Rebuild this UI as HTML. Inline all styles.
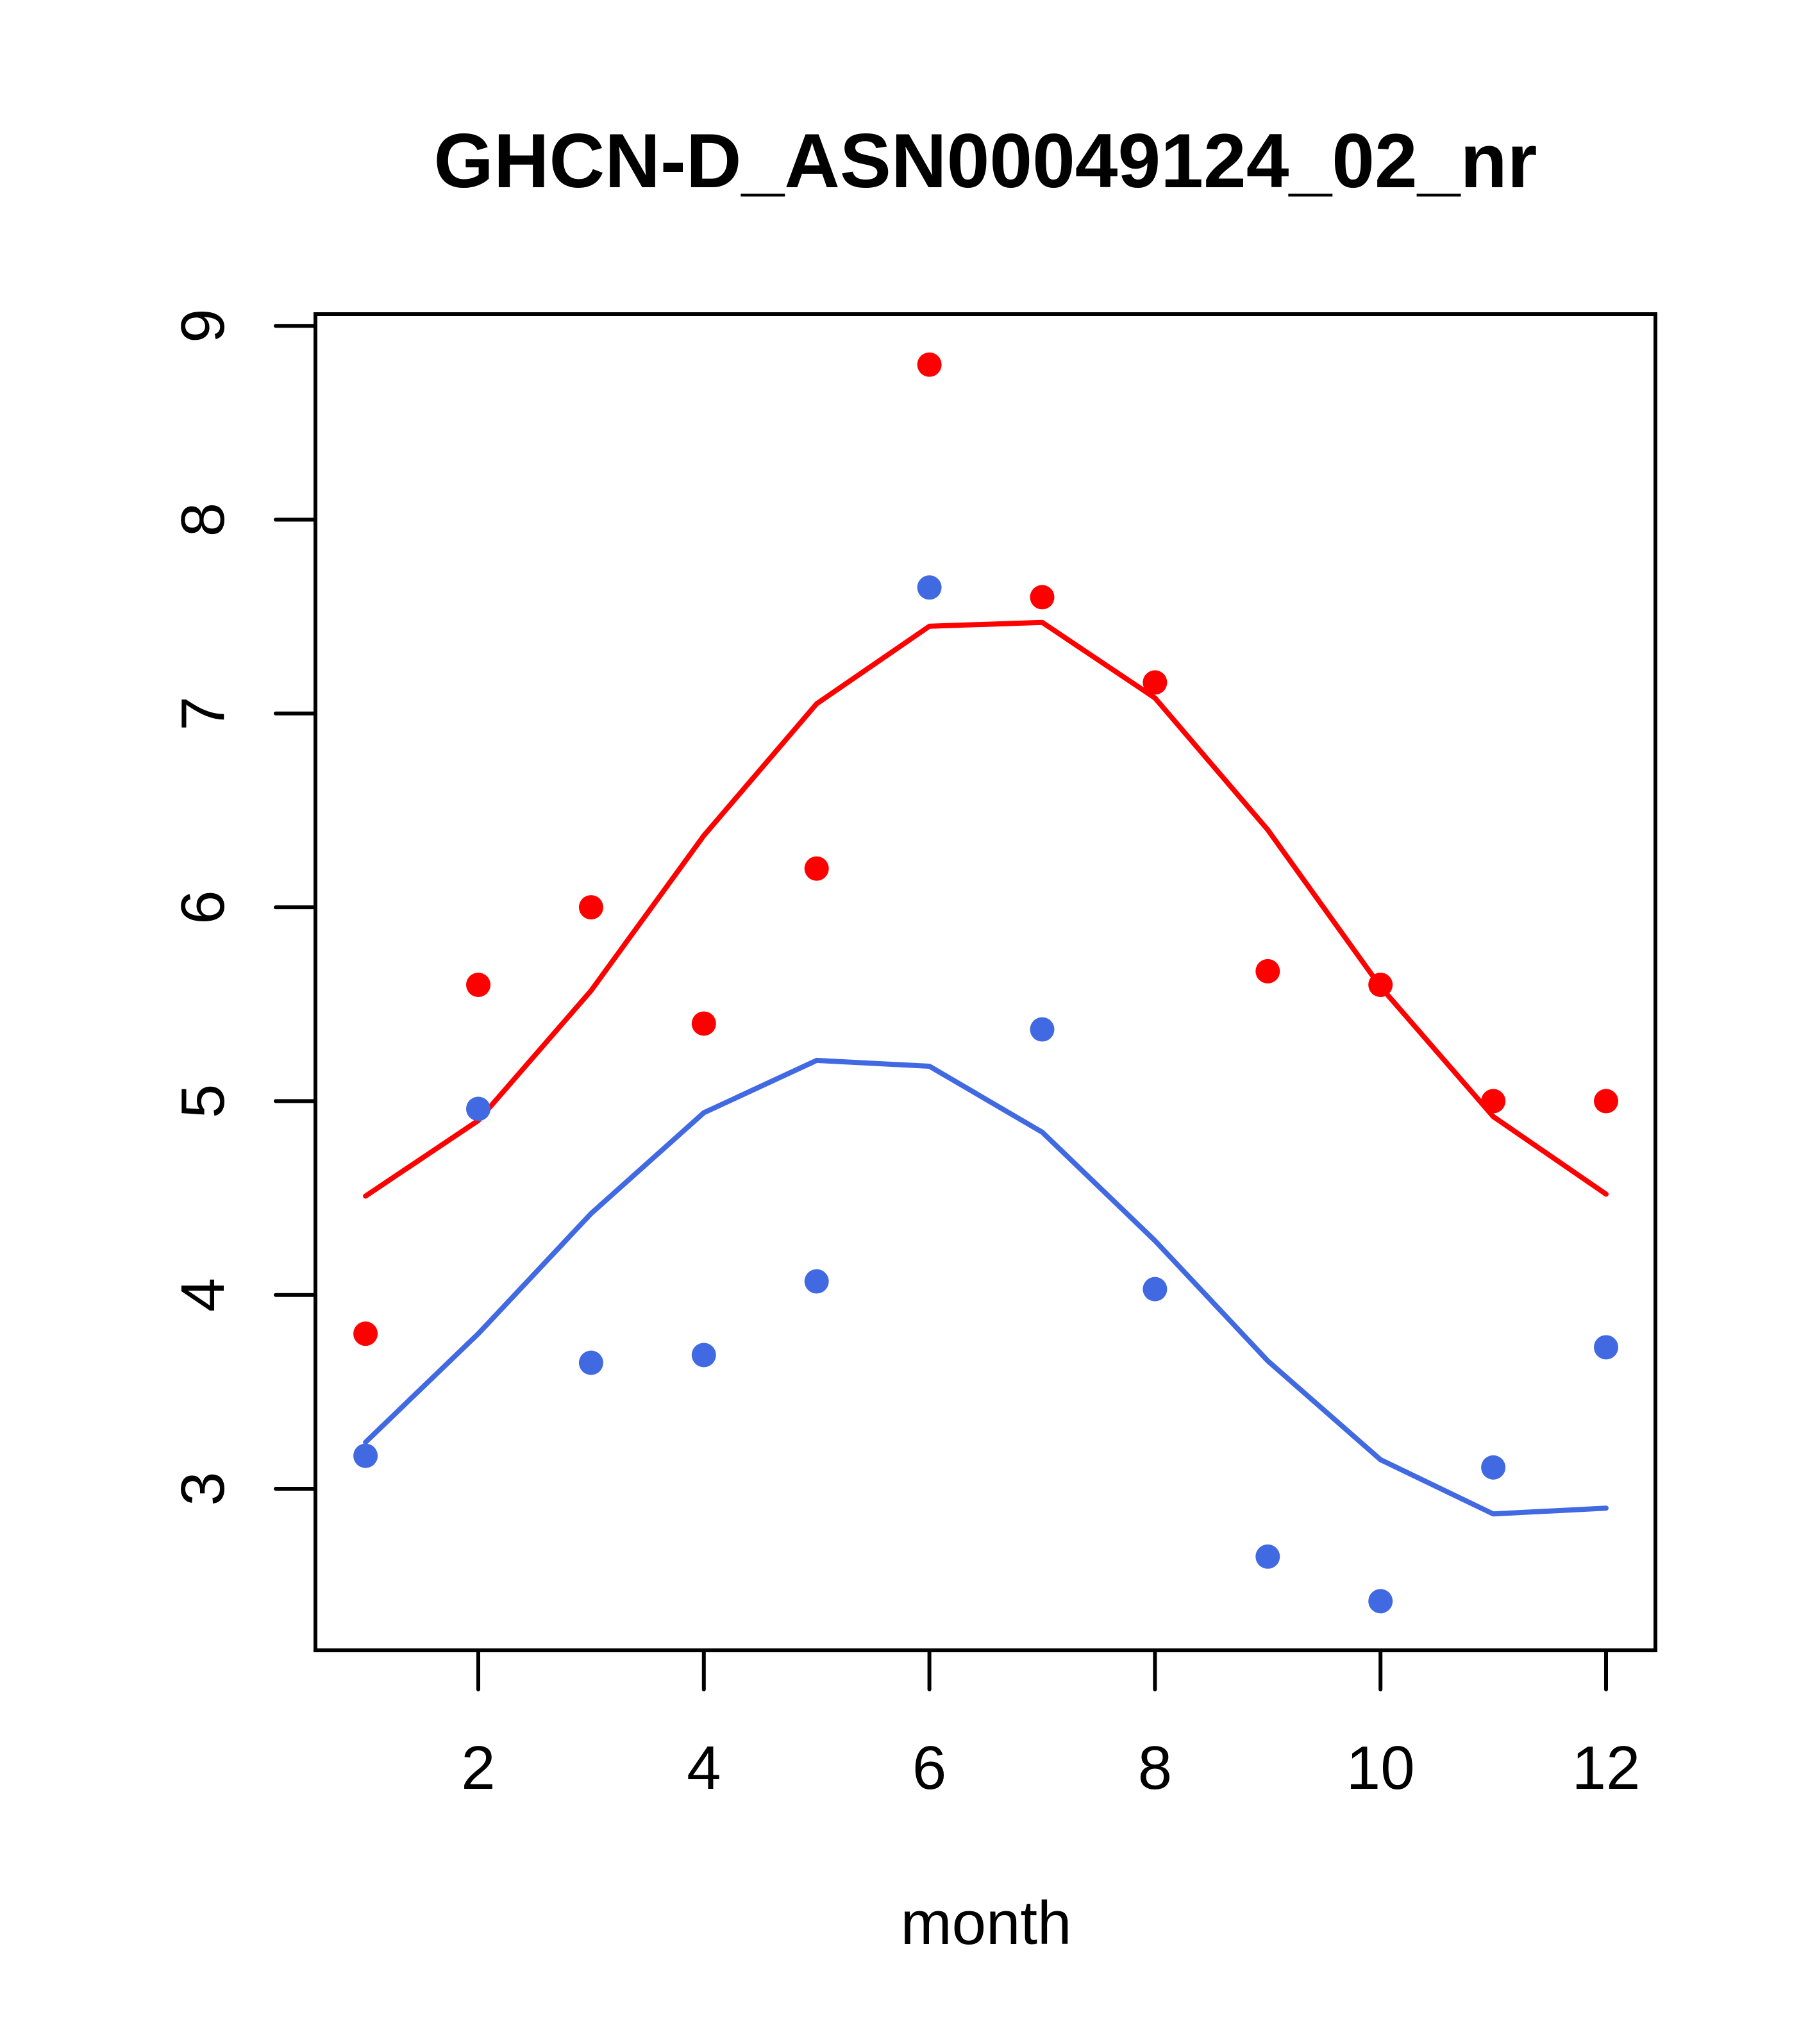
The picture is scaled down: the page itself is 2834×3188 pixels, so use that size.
<!DOCTYPE html>
<html><head><meta charset="utf-8"><style>
html,body{margin:0;padding:0;background:#fff;}
svg{display:block;}
text{font-family:"Liberation Sans",Arial,sans-serif;fill:#000;}
</style></head><body>
<svg id="chart" width="2834" height="3188" viewBox="0 0 2834 3188" xmlns="http://www.w3.org/2000/svg">
<rect width="2834" height="3188" fill="#fff"/>
<text x="1537" y="292" font-size="120" font-weight="bold" text-anchor="middle">GHCN-D_ASN00049124_02_nr</text>
<text x="1538" y="3032" font-size="96" text-anchor="middle">month</text>
<g id="axes"></g>
<g id="marks"></g>
<rect x="492" y="490" width="2090" height="2084" fill="none" stroke="#000" stroke-width="6"/>
</svg>
<script>
const months = [1,2,3,4,5,6,7,8,9,10,11,12];
const redPoints = [3.80,5.60,6.00,5.40,6.20,8.80,7.60,7.16,5.67,5.60,5.00,5.00];
const redLine = [4.51,4.90,5.57,6.37,7.05,7.45,7.47,7.08,6.40,5.59,4.92,4.52];
const bluePoints = [3.17,4.96,3.65,3.69,4.07,7.65,5.37,4.03,2.65,2.42,3.11,3.73];
const blueLine = [3.24,3.80,4.42,4.94,5.21,5.18,4.84,4.28,3.66,3.15,2.87,2.90];
const xTicks = [2,4,6,8,10,12];
const yTicks = [3,4,5,6,7,8,9];

const NS = 'http://www.w3.org/2000/svg';
function xs(v){ return 746 + (v-2)*175.9; }
function ys(v){ return 2322 - (v-3)*302.3; }
function mk(tag, attrs, parent){
  const el = document.createElementNS(NS, tag);
  for (const k in attrs) el.setAttribute(k, attrs[k]);
  parent.appendChild(el);
  return el;
}
const axes = document.getElementById('axes');
const marks = document.getElementById('marks');

xTicks.forEach(t=>{
  const l = mk('line',{x1:xs(t),x2:xs(t),y1:2574,y2:2635,stroke:'#000','stroke-width':6,'stroke-linecap':'round'},axes);
  
  
  const tx = mk('text',{x:xs(t),y:2790,'font-size':96,'text-anchor':'middle'},axes);
  tx.textContent = t;
  
  
});
yTicks.forEach(t=>{
  const l = mk('line',{x1:430,x2:492,y1:ys(t),y2:ys(t),stroke:'#000','stroke-width':6,'stroke-linecap':'round'},axes);
  
  
  const tx = mk('text',{x:0,y:0,'font-size':96,'text-anchor':'middle',transform:'translate(349,'+ys(t)+') rotate(-90)'},axes);
  tx.textContent = t;
  
  
});

function drawLine(vals, color, name){
  const pts = months.map((m,i)=>xs(m)+','+ys(vals[i])).join(' ');
  const p = mk('polyline',{points:pts,fill:'none',stroke:color,'stroke-width':8,'stroke-linecap':'round','stroke-linejoin':'round'},marks);
  
  
}
function drawPoints(vals, color, name){
  months.forEach((m,i)=>{
    const c = mk('circle',{cx:xs(m),cy:ys(vals[i]),r:19,fill:color},marks);
    
    
  });
}
drawLine(redLine,'#FF0000','red-fit-line');
drawLine(blueLine,'#4169E1','blue-fit-line');
drawPoints(redPoints,'#FF0000','red-point');
drawPoints(bluePoints,'#4169E1','blue-point');
</script>
</body></html>
